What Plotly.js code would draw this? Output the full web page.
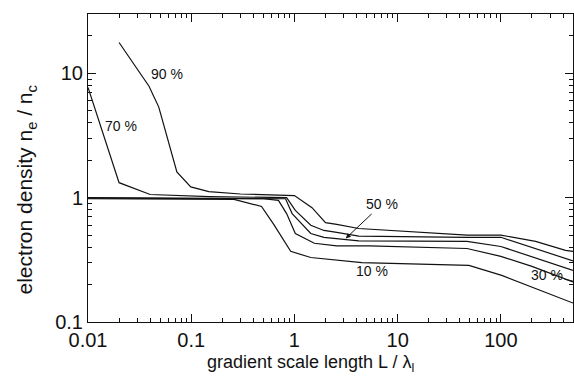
<!DOCTYPE html>
<html>
<head>
<meta charset="utf-8">
<script src="https://cdn.plot.ly/plotly-3.0.1.min.js"></script>
<style>html,body{margin:0;padding:0;background:#fff;}#chart{width:574px;height:383px;}</style>
</head>
<body>
<div id="chart"></div>
<script>
// Curve data (x = L/λl, y = ne/nc)
const x10 = [0.01, 0.26, 0.48, 0.63, 0.92, 1.44, 4.5, 49, 102, 217, 500];
const y10 = [0.98, 0.97, 0.85, 0.61, 0.37, 0.33, 0.30, 0.285, 0.237, 0.187, 0.142];

const x30 = [0.01, 0.5, 0.70, 0.84, 1.02, 1.56, 2.57, 5.3, 47, 100, 200, 500];
const y30 = [0.99, 0.98, 0.95, 0.745, 0.515, 0.43, 0.41, 0.41, 0.39, 0.337, 0.28, 0.21];

const x50 = [0.01, 0.6, 0.82, 0.95, 1.44, 1.93, 4.2, 47, 100, 500];
const y50 = [1.0, 0.99, 0.98, 0.745, 0.515, 0.48, 0.45, 0.445, 0.405, 0.26];

const x70 = [0.01, 0.02, 0.04, 0.15, 0.84, 1.02, 1.44, 1.93, 2.57, 4.2, 47, 100, 500];
const y70 = [7.7, 1.32, 1.06, 1.02, 1.0, 0.79, 0.60, 0.545, 0.525, 0.49, 0.48, 0.48, 0.31];

const x90 = [0.02, 0.039, 0.0485, 0.0726, 0.099, 0.148, 0.3, 1.0, 1.48, 2.0, 2.57, 4.2, 47, 100, 217, 423, 500];
const y90 = [17.7, 7.87, 5.35, 1.61, 1.22, 1.12, 1.07, 1.04, 0.83, 0.63, 0.61, 0.565, 0.50, 0.50, 0.445, 0.377, 0.37];

const xTickVals = [0.01, 0.1, 1, 10, 100];
const xTickText = ['0.01', '0.1', '1', '10', '100'];
const yTickVals = [0.1, 1, 10];
const yTickText = ['0.1', '1', '10'];

const FONT = 'Liberation Sans, Arial, Helvetica, sans-serif';
const line = {color: '#111', width: 1.2};
const mk = (x, y, n) => ({x: x, y: y, name: n, type: 'scatter', mode: 'lines', line: line, hoverinfo: 'skip'});
const data = [mk(x10, y10, '10 %'), mk(x30, y30, '30 %'), mk(x50, y50, '50 %'), mk(x70, y70, '70 %'), mk(x90, y90, '90 %')];

const L = Math.log10;
const afont = {family: FONT, size: 14, color: '#111'};
const annotations = [
  {x: L(0.058), y: L(9.8), text: '90 %', showarrow: false, font: afont},
  {x: L(0.0208), y: L(3.77), text: '70 %', showarrow: false, font: afont},
  {x: L(5.7), y: L(0.256), text: '10 %', showarrow: false, font: afont},
  {x: L(3.14), y: L(0.47), text: '50 %', showarrow: true, arrowhead: 2, arrowsize: 1, arrowwidth: 1, arrowcolor: '#111',
   ax: 36, ay: -34, axref: 'pixel', ayref: 'pixel', font: afont},
  {x: L(500), y: L(0.213), text: '30 %', showarrow: true, arrowhead: 0, arrowwidth: 1, arrowcolor: '#111',
   ax: -26, ay: -6, axref: 'pixel', ayref: 'pixel', font: afont},
  {xref: 'paper', yref: 'paper', x: 0.458, y: -0.136, xanchor: 'center', yanchor: 'middle', showarrow: false,
   text: 'gradient scale length L / λ<sub>l</sub>', font: {family: FONT, size: 18, color: '#111'}},
  {xref: 'paper', yref: 'paper', x: -0.128, y: 0.43, xanchor: 'center', yanchor: 'middle', showarrow: false,
   textangle: -90, text: 'electron density n<sub>e</sub> / n<sub>c</sub>', font: {family: FONT, size: 21, color: '#111'}}
];

const axisCommon = {
  type: 'log', showline: true, linecolor: '#111', linewidth: 1, mirror: 'allticks',
  ticks: 'inside', ticklen: 8, tickwidth: 1, tickcolor: '#111', showgrid: false, zeroline: false,
  tickmode: 'array', tickfont: {family: FONT, size: 20, color: '#111'},
  minor: {ticks: 'inside', ticklen: 4, tickwidth: 1, tickcolor: '#111', dtick: 'D1', showgrid: false}
};

const layout = {
  width: 574, height: 383,
  margin: {l: 88, r: 1, t: 14, b: 61},
  paper_bgcolor: '#fff', plot_bgcolor: '#fff',
  showlegend: false,
  xaxis: Object.assign({}, axisCommon, {range: [-2, L(500)], tickvals: xTickVals, ticktext: xTickText}),
  yaxis: Object.assign({}, axisCommon, {range: [-1, L(30)], tickvals: yTickVals, ticktext: yTickText}),
  annotations: annotations
};

Plotly.newPlot('chart', data, layout, {staticPlot: true, displayModeBar: false});
</script>
</body>
</html>
